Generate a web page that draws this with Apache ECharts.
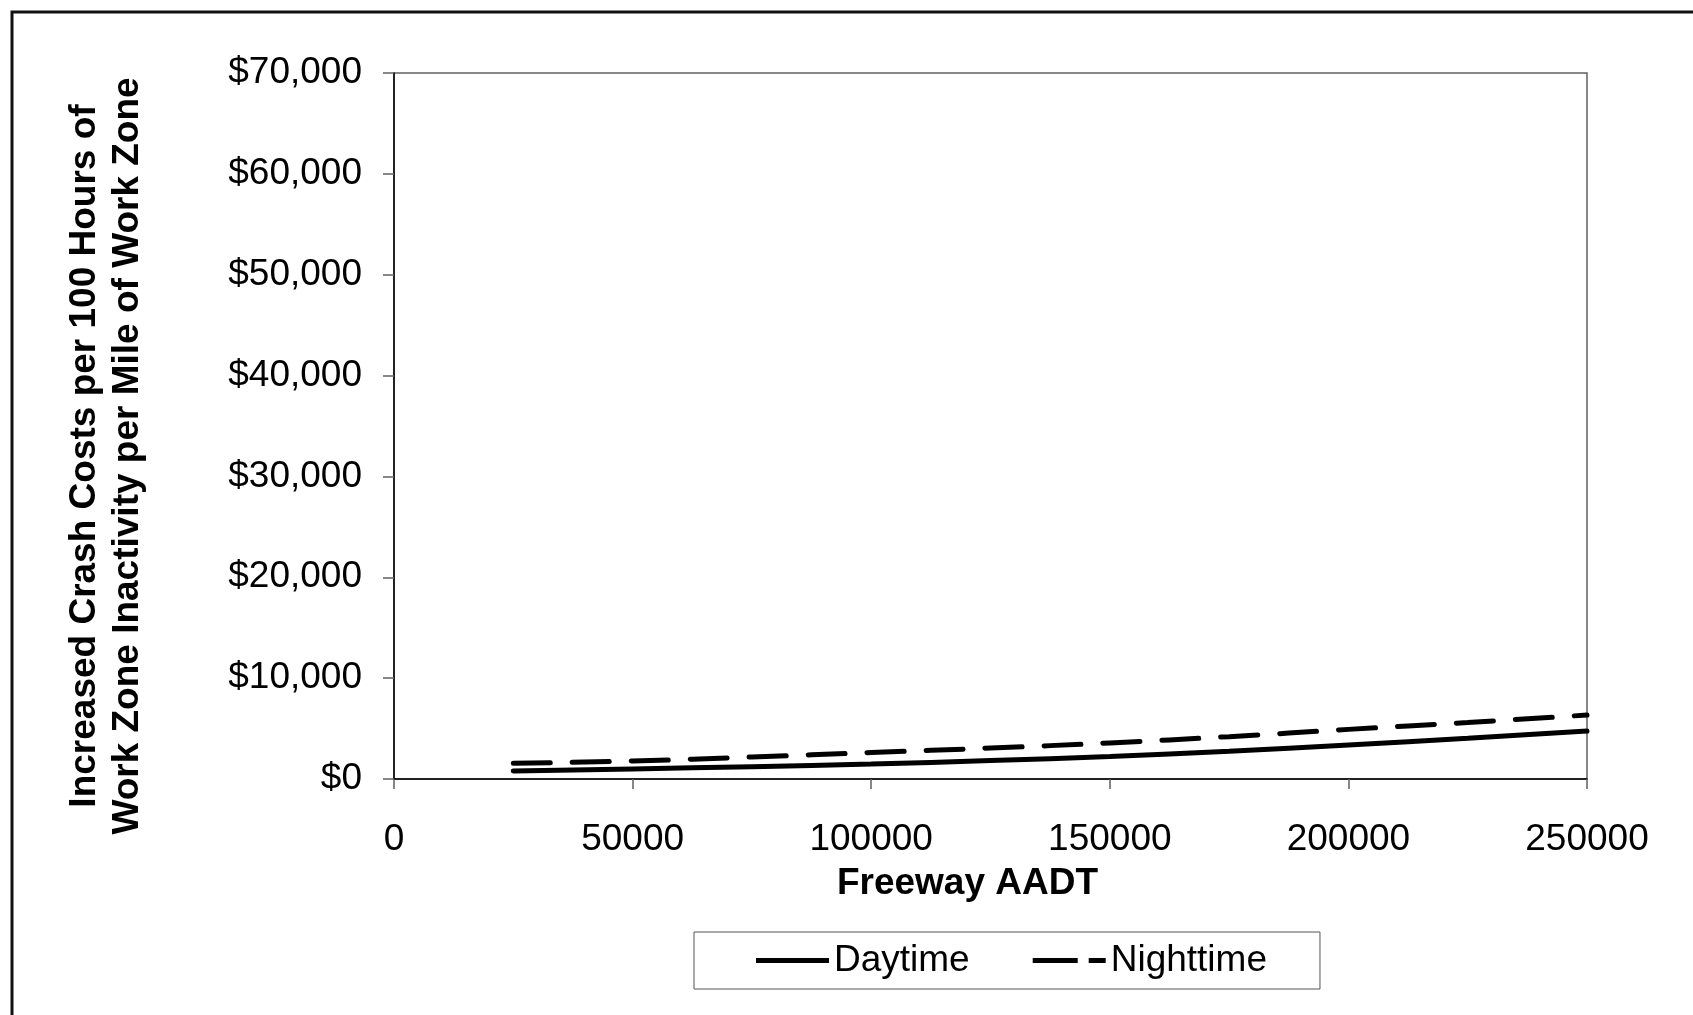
<!DOCTYPE html>
<html>
<head>
<meta charset="utf-8">
<script src="https://cdn.jsdelivr.net/npm/echarts@6/dist/echarts.min.js"></script>
<style>
html,body{margin:0;padding:0;background:#fff;}
#chart{width:1693px;height:1015px;}
</style>
</head>
<body>
<div id="chart"></div>
<script>
const aadt = [25000, 50000, 75000, 100000, 125000, 150000, 175000, 200000, 225000, 250000];
const daytime = [800, 1000, 1220, 1480, 1830, 2230, 2750, 3380, 4040, 4750];
const nighttime = [1550, 1790, 2180, 2620, 3070, 3580, 4200, 4920, 5600, 6340];
const seriesNames = ['Daytime', 'Nighttime'];
const xTitle = 'Freeway AADT';
const yTitle = 'Increased Crash Costs per 100 Hours of\nWork Zone Inactivity per Mile of Work Zone';

const FONT = '"Liberation Sans", Arial, sans-serif';
const chart = echarts.init(document.getElementById('chart'));
const zip = (xs, ys) => xs.map((x, i) => [x, ys[i]]);

chart.setOption({
  animation: false,
  backgroundColor: '#fff',
  graphic: [{
    type: 'rect',
    shape: { x: 12, y: 12, width: 1720, height: 1040 },
    style: { fill: 'none', stroke: '#111', lineWidth: 3 },
    silent: true
  }],
  grid: {
    left: 394, right: 106, top: 73, bottom: 236,
    show: true, borderColor: '#606060', borderWidth: 1.5, backgroundColor: 'transparent'
  },
  legend: {
    left: 694, top: 932,
    padding: [10, 53, 10, 62],
    borderColor: '#555', borderWidth: 1,
    itemWidth: 73, itemHeight: 5, itemGap: 63,
    textStyle: { fontFamily: FONT, fontSize: 37, color: '#000' },
    data: [
      { name: seriesNames[0], icon: 'path://M0,0h73v5h-73z' },
      { name: seriesNames[1], icon: 'path://M0,0h45v5h-45z M56,0h17v5h-17z' }
    ]
  },
  xAxis: {
    type: 'value', min: 0, max: 250000, interval: 50000,
    name: xTitle, nameLocation: 'middle', nameGap: 86,
    nameTextStyle: { fontFamily: FONT, fontSize: 37, fontWeight: 'bold', color: '#000', padding: [0, 46, 0, 0] },
    axisLine: { show: true, lineStyle: { color: '#000', width: 1.5 } },
    axisTick: { show: true, length: 10, lineStyle: { color: '#606060', width: 1.5 } },
    axisLabel: { margin: 42, fontFamily: FONT, fontSize: 37, color: '#000', formatter: v => String(v) },
    splitLine: { show: false }
  },
  yAxis: {
    type: 'value', min: 0, max: 70000, interval: 10000,
    name: yTitle, nameLocation: 'middle', nameGap: 245,
    nameTextStyle: { fontFamily: FONT, fontSize: 37, fontWeight: 'bold', color: '#000', lineHeight: 43, padding: [0, 60, 0, 0] },
    axisLine: { show: true, lineStyle: { color: '#000', width: 1.5 } },
    axisTick: { show: true, length: 11, lineStyle: { color: '#606060', width: 1.5 } },
    axisLabel: {
      margin: 32, fontFamily: FONT, fontSize: 37, color: '#000',
      formatter: v => '$' + v.toLocaleString('en-US')
    },
    splitLine: { show: false }
  },
  series: [
    {
      name: seriesNames[0], type: 'line', data: zip(aadt, daytime),
      smooth: true, symbol: 'none',
      lineStyle: { color: '#000', width: 5, cap: 'round' },
      itemStyle: { color: '#000' }
    },
    {
      name: seriesNames[1], type: 'line', data: zip(aadt, nighttime),
      smooth: true, symbol: 'none',
      lineStyle: { color: '#000', width: 5, type: [37, 22], cap: 'round' },
      itemStyle: { color: '#000' }
    }
  ]
});
</script>
</body>
</html>
